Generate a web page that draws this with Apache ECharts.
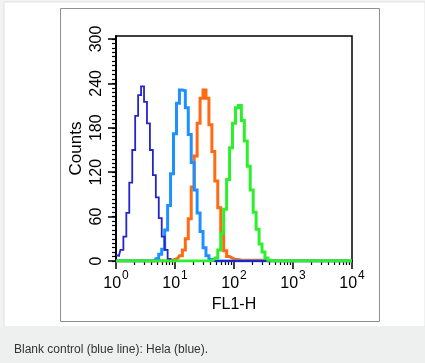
<!DOCTYPE html>
<html>
<head>
<meta charset="utf-8">
<script src="https://cdn.jsdelivr.net/npm/echarts@6/dist/echarts.min.js"></script>
<style>
html,body{margin:0;padding:0;background:#f2f2f2;}
#c{width:425px;height:363px;}
</style>
</head>
<body>
<div id="c"></div>
<script>
// FL1-H channel values (log-spaced bins, 20 per decade)
const channels = [
  1, 1.122, 1.259, 1.413, 1.585, 1.778, 1.995, 2.239, 2.512, 2.818, 3.162, 3.548, 3.981, 4.467, 5.012, 5.623, 6.310, 7.079, 7.943, 8.913,
  10, 11.22, 12.59, 14.13, 15.85, 17.78, 19.95, 22.39, 25.12, 28.18, 31.62, 35.48, 39.81, 44.67, 50.12, 56.23, 63.10, 70.79, 79.43, 89.13,
  100, 112.2, 125.9, 141.3, 158.5, 177.8, 199.5, 223.9, 251.2, 281.8, 316.2, 354.8, 398.1, 446.7, 501.2, 562.3, 631.0, 707.9, 794.3, 891.3,
  1000, 1122, 1259, 1413, 1585, 1778, 1995, 2239, 2512, 2818, 3162, 3548, 3981, 4467, 5012, 5623, 6310, 7079, 7943, 8913, 10000
];
// Counts per channel
const blankControl = [
  8, 7, 15, 33, 65, 106, 150, 196, 224, 236, 215, 186, 150, 116, 86, 58, 33, 15, 3, 0,
  0, 0, 0, 0, 0, 0, 0, 0, 0, 0, 0, 0, 0, 0, 0, 0, 0, 0, 0, 0,
  0, 0, 0, 0, 0, 0, 0, 0, 0, 0, 0, 0, 0, 0, 0, 0, 0, 0, 0, 0,
  0, 0, 0, 0, 0, 0, 0, 0, 0, 0, 0, 0, 0, 0, 0, 0, 0, 0, 0, 0, 0
];
const helaLightBlue = [
  0, 0, 0, 0, 0, 0, 0, 0, 0, 0, 0, 0, 0, 0, 3, 9, 16, 42, 75, 118,
  172, 213, 231, 230, 207, 171, 133, 96, 65, 40, 18, 7, 2, 0, 0, 0, 0, 0, 0, 0,
  0, 0, 0, 0, 0, 0, 0, 0, 0, 0, 0, 0, 0, 0, 0, 0, 0, 0, 0, 0,
  0, 0, 0, 0, 0, 0, 0, 0, 0, 0, 0, 0, 0, 0, 0, 0, 0, 0, 0, 0, 0
];
const helaOrange = [
  0, 0, 0, 0, 0, 0, 0, 0, 0, 0, 0, 0, 0, 0, 0, 0, 0, 0, 0, 1,
  2, 4, 7, 15, 30, 57, 100, 142, 186, 220, 231, 220, 184, 148, 108, 72, 40, 14, 6, 4,
  2, 2, 1, 1, 1, 1, 1, 1, 1, 1, 1, 0, 0, 0, 0, 0, 0, 0, 0, 0,
  0, 0, 0, 0, 0, 0, 0, 0, 0, 0, 0, 0, 0, 0, 0, 0, 0, 0, 0, 0, 0
];
const helaGreen = [
  0, 0, 0, 0, 0, 0, 0, 0, 0, 0, 0, 0, 0, 0, 0, 0, 0, 0, 0, 0,
  0, 0, 0, 0, 0, 0, 0, 0, 0, 0, 0, 0, 0, 1, 4, 15, 38, 70, 110, 153,
  186, 207, 210, 190, 162, 128, 96, 66, 43, 23, 12, 4, 1, 0, 0, 0, 0, 0, 0, 0,
  0, 0, 0, 0, 0, 0, 0, 0, 0, 0, 0, 0, 0, 0, 0, 0, 0, 0, 0, 0, 0
];
const xTickExponents = ['0', '1', '2', '3', '4'];
const yTickValues = [0, 60, 120, 180, 240, 300];
const captionText = 'Blank control (blue line): Hela (blue).';

const FONT = 'Liberation Sans, Arial, Helvetica, sans-serif';
const pts = arr => channels.map((c, i) => [c, arr[i]]);

const xMinor = [];
for (let d = 0; d < 4; d++) for (let m = 2; m <= 9; m++) xMinor.push(d + Math.log10(m));
const yMinor = [];
for (let v = 0; v <= 300; v += 6) yMinor.push(v);

const chart = echarts.init(document.getElementById('c'), null, {renderer: 'canvas'});
const mk = (name, data, color, width) => ({
  name, type: 'line', step: 'middle', xAxisIndex: 0, yAxisIndex: 0,
  data: pts(data), symbol: 'none', animation: false,
  lineStyle: {color, width, join: 'miter'}, itemStyle: {color}
});

chart.setOption({
  backgroundColor: '#f2f2f2',
  animation: false,
  graphic: [
    {type: 'rect', z: -100, shape: {x: 4, y: 2, width: 421, height: 325}, style: {fill: '#ffffff', stroke: '#e2e2e2', lineWidth: 1}},
    {type: 'rect', z: -99, shape: {x: 60.5, y: 8.5, width: 319, height: 313}, style: {fill: '#ffffff', stroke: '#8f8f8f', lineWidth: 1}},
    {type: 'rect', z: -98, shape: {x: 0, y: 327, width: 425, height: 36}, style: {fill: '#eef0ef', stroke: null}},
    {type: 'text', z: 10, x: 14, y: 350, style: {text: captionText, fill: '#333333', font: '12px ' + FONT, verticalAlign: 'middle', textAlign: 'left'}}
  ],
  grid: {left: 116, top: 36, width: 236, height: 225, show: true, borderColor: '#000', borderWidth: 1.5, backgroundColor: 'transparent', containLabel: false},
  xAxis: [
    {
      type: 'log', logBase: 10, min: 1, max: 10000, gridIndex: 0, position: 'bottom',
      name: 'FL1-H', nameLocation: 'middle', nameGap: 36, nameMoveOverlap: false,
      nameTextStyle: {fontSize: 16, color: '#000', fontFamily: FONT},
      axisLine: {show: true, lineStyle: {color: '#000', width: 2}},
      axisTick: {show: true, length: 8, lineStyle: {color: '#000', width: 1.5}},
      minorTick: {show: false},
      splitLine: {show: false},
      axisLabel: {
        margin: 12, color: '#000',
        formatter: v => '{b|10}{s|' + xTickExponents[Math.round(Math.log10(v))] + '}',
        rich: {
          b: {fontSize: 16, fontFamily: FONT, color: '#000', lineHeight: 16, height: 16, padding: [6, 0, 0, 0]},
          s: {fontSize: 12, fontFamily: FONT, color: '#000', lineHeight: 12, height: 12, padding: [0, 0, 10, 1]}
        }
      }
    },
    {
      type: 'value', min: 0, max: 4, gridIndex: 0, position: 'bottom',
      axisLine: {show: false}, axisLabel: {show: false}, splitLine: {show: false},
      axisTick: {show: true, length: 4, customValues: xMinor, lineStyle: {color: '#000', width: 1.2}}
    }
  ],
  yAxis: [
    {
      type: 'value', min: 0, max: 304, gridIndex: 0, position: 'left',
      name: 'Counts', nameLocation: 'middle', nameGap: 31, nameRotate: 90, nameMoveOverlap: false,
      nameTextStyle: {fontSize: 17, color: '#000', fontFamily: FONT},
      axisLine: {show: true, lineStyle: {color: '#000', width: 2}},
      axisTick: {show: true, length: 8, customValues: yTickValues, lineStyle: {color: '#000', width: 1.5}},
      axisLabel: {customValues: yTickValues, rotate: 90, margin: 11, fontSize: 16, color: '#000', fontFamily: FONT},
      splitLine: {show: false}
    },
    {
      type: 'value', min: 0, max: 304, gridIndex: 0, position: 'left',
      axisLine: {show: false}, axisLabel: {show: false}, splitLine: {show: false},
      axisTick: {show: true, length: 4, customValues: yMinor, lineStyle: {color: '#000', width: 1.2}}
    }
  ],
  series: [
    mk('Hela (orange)', helaOrange, '#ff6a13', 3),
    mk('Hela (light blue)', helaLightBlue, '#1e90ff', 3),
    mk('Blank control', blankControl, '#2424cc', 1.8),
    mk('Hela (green)', helaGreen, '#2cf02c', 3)
  ]
});
</script>
</body>
</html>
